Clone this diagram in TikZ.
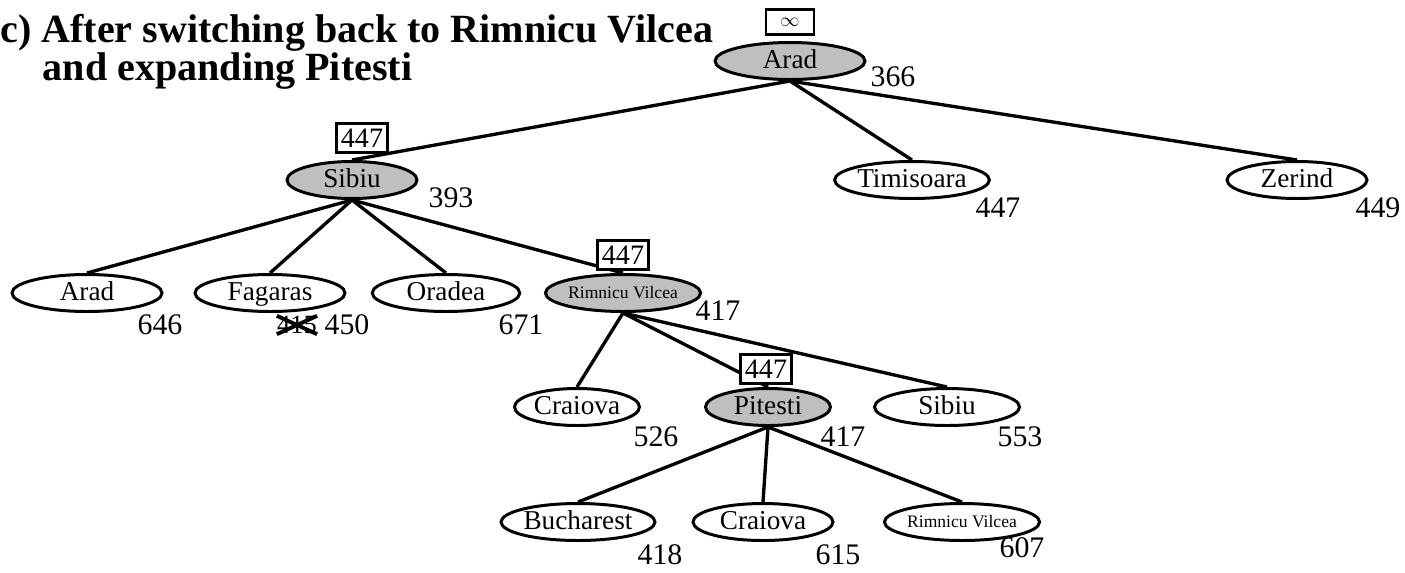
\documentclass[tikz,border=0pt]{standalone}
\usepackage{fontspec}
\setmainfont{Liberation Serif}
\usetikzlibrary{shapes.geometric}
\begin{document}
\begin{tikzpicture}[x=0.02cm,y=-0.02cm,
  city/.style={ellipse, draw, line width=1.7pt, inner sep=0pt, minimum height=0.74cm, text height=10pt, text depth=1.5pt, font=\fontsize{15.5}{15.5}\selectfont},
  expanded/.style={city, fill=gray!50},
  smallcity/.style={font=\fontsize{10}{10}\selectfont, text height=7pt, text depth=1pt},
  fbox/.style={draw, fill=white, line width=1.3pt, inner sep=0pt, minimum width=1.02cm, minimum height=0.58cm, font=\fontsize{16}{16}\selectfont},
  num/.style={inner sep=0pt, font=\fontsize{17}{17}\selectfont},
  edge/.style={line width=1.9pt}]
\useasboundingbox (0,0) rectangle (1405,572);
% title
\node[anchor=north west, inner sep=0pt, align=left, font=\bfseries\fontsize{22.8}{20}\selectfont] (title) at (0,14) {c) After switching back to Rimnicu Vilcea\\\hspace*{0.85cm}and expanding Pitesti};
% nodes
\node[expanded, minimum width=3.0cm] (arad) at (790,61) {Arad};
\node[expanded, minimum width=2.6cm] (sibiu) at (352,180) {Sibiu};
\node[city, minimum width=2.9cm] (timi) at (912,180) {Timisoara};
\node[city, minimum width=2.8cm] (zer) at (1297,180) {Zerind};
\node[city, minimum width=3.0cm] (arad2) at (87,293) {Arad};
\node[city, minimum width=3.0cm] (fag) at (270,293) {Fagaras};
\node[city, minimum width=2.95cm] (ora) at (446,293) {Oradea};
\node[expanded, smallcity, minimum width=2.8cm] (rv) at (623,293) {Rimnicu Vilcea};
\node[city, minimum width=2.5cm] (cra) at (577,407) {Craiova};
\node[expanded, minimum width=2.5cm] (pit) at (768,407) {Pitesti};
\node[city, minimum width=2.9cm] (sib2) at (947,407) {Sibiu};
\node[city, minimum width=2.5cm] (buc) at (578,522) {Bucharest};
\node[city, minimum width=2.8cm] (cra2) at (763,522) {Craiova};
\node[city, smallcity, minimum width=2.5cm] (rv2) at (962,522) {Rimnicu Vilcea};
% edges
\draw[edge] (arad.south) -- (sibiu.north);
\draw[edge] (arad.south) -- (timi.north);
\draw[edge] (arad.south) -- (zer.north);
\draw[edge] (sibiu.south) -- (arad2.north);
\draw[edge] (sibiu.south) -- (fag.north);
\draw[edge] (sibiu.south) -- (ora.north);
\draw[edge] (sibiu.south) -- (rv.north);
\draw[edge] (rv.south) -- (cra.north);
\draw[edge] (rv.south) -- (pit.north);
\draw[edge] (rv.south) -- (sib2.north);
\draw[edge] (pit.south) -- (buc.north);
\draw[edge] (pit.south) -- (cra2.north);
\draw[edge] (pit.south) -- (rv2.north);
% f-limit boxes
\node[fbox, minimum width=0.96cm, minimum height=0.5cm] (barad) at (790,22) {\fontsize{11}{11}\selectfont$\infty$};
\node[fbox] (bsib) at (362,138) {447};
\node[fbox] (brv) at (623,255) {447};
\node[fbox] (bpit) at (766,369) {447};
% f values
\node[num] (n1) at (893,77) {366};
\node[num] (n2) at (451,198) {393};
\node[num] (n3) at (998,208) {447};
\node[num] (n4) at (1378,208) {449};
\node[num] (n5) at (160,325) {646};
\node[num, font=\fontsize{15}{15}\selectfont] (n6x) at (297,325) {415};
\node[num] (n6) at (347,325) {450};
\node[num] (n7) at (521,325) {671};
\node[num] (n8) at (718,311) {417};
\node[num] (n9) at (656,437) {526};
\node[num] (n10) at (843,437) {417};
\node[num] (n11) at (1020,437) {553};
\node[num] (n12) at (660,555) {418};
\node[num] (n13) at (838,555) {615};
\node[num] (n14) at (1022,548) {607};
% cross over old value
\draw[line width=2.2pt] (n6x.north west) -- (n6x.south east);
\draw[line width=2.2pt] (n6x.south west) -- (n6x.north east);
\end{tikzpicture}
\end{document}
